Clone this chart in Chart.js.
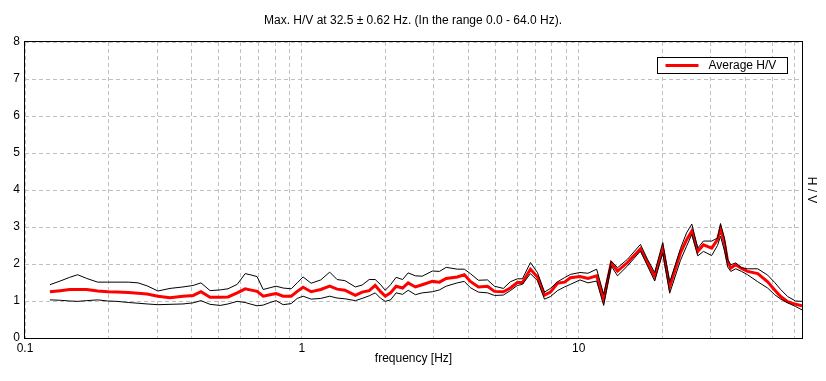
<!DOCTYPE html>
<html>
<head>
<meta charset="utf-8">
<script src="https://cdn.jsdelivr.net/npm/chart.js@4.4.1/dist/chart.umd.min.js"></script>
<style>
  body { margin: 0; background: #fff; }
  canvas { display: block; }
</style>
</head>
<body>
<canvas id="hv" width="826" height="381"></canvas>
<script>
const freq = [0.123, 0.134, 0.145, 0.155, 0.167, 0.183, 0.199, 0.215, 0.236, 0.256,
  0.276, 0.302, 0.334, 0.372, 0.405, 0.432, 0.466, 0.507, 0.541, 0.584,
  0.624, 0.650, 0.689, 0.725, 0.768, 0.807, 0.856, 0.915, 0.962, 1.01,
  1.08, 1.17, 1.26, 1.34, 1.43, 1.56, 1.65, 1.75, 1.84, 1.92,
  2.00, 2.09, 2.19, 2.31, 2.42, 2.57, 2.72, 2.96, 3.14, 3.32,
  3.64, 3.86, 4.06, 4.34, 4.68, 4.96, 5.34, 5.66, 6.00, 6.26,
  6.69, 7.09, 7.52, 7.90, 8.38, 8.88, 9.33, 10.1, 10.8, 11.6,
  12.3, 13.1, 13.8, 15.0, 16.7, 17.7, 18.8, 20.1, 21.3, 23.3,
  24.5, 25.6, 26.9, 28.2, 30.2, 31.7, 32.5, 33.6, 34.5, 35.4,
  36.9, 38.7, 40.7, 44.3, 48.1, 51.0, 53.6, 56.8, 60.7, 64.0];

const avgHV = [1.25, 1.28, 1.31, 1.31, 1.31, 1.27, 1.25, 1.24, 1.23, 1.21,
  1.19, 1.13, 1.09, 1.13, 1.15, 1.25, 1.10, 1.10, 1.11, 1.22,
  1.33, 1.30, 1.26, 1.13, 1.17, 1.20, 1.13, 1.13, 1.26, 1.37,
  1.25, 1.31, 1.40, 1.32, 1.29, 1.15, 1.24, 1.28, 1.42, 1.26,
  1.13, 1.22, 1.40, 1.35, 1.49, 1.38, 1.44, 1.53, 1.51, 1.61,
  1.65, 1.71, 1.53, 1.38, 1.40, 1.26, 1.25, 1.35, 1.50, 1.50,
  1.86, 1.65, 1.16, 1.24, 1.48, 1.51, 1.63, 1.66, 1.61, 1.68,
  1.05, 2.03, 1.81, 2.04, 2.41, 2.04, 1.66, 2.41, 1.39, 2.30,
  2.65, 2.89, 2.34, 2.52, 2.43, 2.66, 2.96, 2.55, 2.07, 1.89,
  1.98, 1.88, 1.80, 1.74, 1.52, 1.30, 1.12, 0.98, 0.91, 0.87];

const upperHV = [1.44, 1.54, 1.64, 1.71, 1.61, 1.51, 1.51, 1.51, 1.51, 1.49,
  1.41, 1.27, 1.34, 1.38, 1.42, 1.49, 1.28, 1.30, 1.33, 1.45,
  1.74, 1.71, 1.66, 1.31, 1.36, 1.40, 1.35, 1.33, 1.49, 1.65,
  1.48, 1.57, 1.78, 1.58, 1.55, 1.38, 1.43, 1.58, 1.58, 1.45,
  1.29, 1.44, 1.64, 1.58, 1.76, 1.68, 1.67, 1.81, 1.80, 1.91,
  1.86, 1.86, 1.74, 1.56, 1.57, 1.40, 1.34, 1.52, 1.60, 1.60,
  2.04, 1.77, 1.24, 1.34, 1.52, 1.63, 1.72, 1.77, 1.75, 1.86,
  1.18, 2.08, 1.90, 2.13, 2.53, 2.13, 1.77, 2.58, 1.51, 2.42,
  2.84, 3.08, 2.43, 2.62, 2.62, 2.70, 3.09, 2.70, 2.12, 1.98,
  2.03, 1.90, 1.87, 1.87, 1.70, 1.50, 1.31, 1.12, 1.00, 0.99];

const lowerHV = [1.03, 1.02, 1.00, 0.99, 1.01, 1.03, 1.00, 0.99, 0.96, 0.94,
  0.92, 0.90, 0.91, 0.92, 0.95, 1.01, 0.91, 0.88, 0.92, 0.99,
  0.96, 0.92, 0.87, 0.89, 0.96, 1.01, 0.90, 0.93, 1.07, 1.13,
  1.05, 1.07, 1.13, 1.08, 1.06, 1.01, 1.07, 1.14, 1.22, 1.08,
  0.99, 1.03, 1.22, 1.18, 1.29, 1.17, 1.22, 1.25, 1.30, 1.40,
  1.49, 1.53, 1.36, 1.24, 1.22, 1.15, 1.16, 1.28, 1.42, 1.45,
  1.74, 1.55, 1.05, 1.12, 1.28, 1.38, 1.45, 1.57, 1.49, 1.54,
  0.88, 1.95, 1.68, 1.95, 2.35, 1.95, 1.54, 2.30, 1.21, 2.10,
  2.48, 2.80, 2.22, 2.34, 2.23, 2.50, 2.75, 2.35, 1.92, 1.80,
  1.87, 1.80, 1.71, 1.52, 1.35, 1.17, 1.05, 0.95, 0.85, 0.76];

// grid lines on the log axis, only decades get a label
const xGrid = [0.1, 0.2, 0.3, 0.4, 0.5, 0.6, 0.7, 0.8, 0.9,
  1, 2, 3, 4, 5, 6, 7, 8, 9, 10, 20, 30, 40, 50, 60];
const xLabels = [0.1, 1, 10];

const FONT = '"Liberation Sans", Arial, sans-serif';
Chart.defaults.font.family = FONT;
Chart.defaults.font.size = 12;
Chart.defaults.color = '#000';

const pts = arr => freq.map((f, i) => ({ x: f, y: arr[i] }));

// frame around the plot + legend box inside the plot
const framePlugin = {
  id: 'frame',
  afterDraw(chart) {
    const { ctx, chartArea: a } = chart;
    ctx.save();
    ctx.strokeStyle = '#000';
    ctx.lineWidth = 1;
    const l = Math.round(a.left) - 0.5, t = Math.round(a.top) - 0.5;
    const r = Math.round(a.right) + 0.5, b = Math.round(a.bottom) + 0.5;
    ctx.strokeRect(l, t, r - l, b - t);

    // legend
    const bx = Math.round(a.right) - 145 + 0.5, by = Math.round(a.top) + 15 + 0.5;
    ctx.fillStyle = '#fff';
    ctx.fillRect(bx, by, 130, 16);
    ctx.strokeRect(bx, by, 130, 16);
    ctx.strokeStyle = '#ff0000';
    ctx.lineWidth = 3;
    ctx.beginPath();
    ctx.moveTo(bx + 8, by + 8);
    ctx.lineTo(bx + 41, by + 8);
    ctx.stroke();
    ctx.fillStyle = '#000';
    ctx.font = '12px ' + FONT;
    ctx.textBaseline = 'middle';
    ctx.fillText(chart.data.datasets[2].label, bx + 51, by + 8);
    ctx.restore();
  }
};

new Chart(document.getElementById('hv'), {
  type: 'line',
  data: {
    datasets: [
      { label: 'upper', data: pts(upperHV), borderColor: '#000', borderWidth: 1, pointRadius: 0, tension: 0 },
      { label: 'lower', data: pts(lowerHV), borderColor: '#000', borderWidth: 1, pointRadius: 0, tension: 0 },
      { label: 'Average H/V', data: pts(avgHV), borderColor: '#ff0000', borderWidth: 3, pointRadius: 0, tension: 0 }
    ]
  },
  options: {
    responsive: false,
    animation: false,
    layout: { padding: 0 },
    plugins: {
      legend: { display: false },
      tooltip: { enabled: false },
      title: {
        display: true,
        text: 'Max. H/V at 32.5 ± 0.62 Hz. (In the range 0.0 - 64.0 Hz).',
        font: { size: 12, weight: 'normal' },
        color: '#000',
        padding: { top: 13, bottom: 14.6 }
      }
    },
    scales: {
      x: {
        type: 'logarithmic',
        min: 0.1,
        max: 64,
        afterBuildTicks: s => { s.ticks = xGrid.map(v => ({ value: v })); },
        afterFit: s => { s.height = 43; },
        ticks: {
          autoSkip: false,
          maxRotation: 0,
          padding: 3,
          callback: v => xLabels.includes(v) ? String(v) : ''
        },
        grid: { color: '#c0c0c0', drawTicks: false },
        border: { display: false, dash: [4, 3] },
        title: { display: true, text: 'frequency [Hz]', padding: { top: 0, bottom: 14.8 } }
      },
      y: {
        min: 0,
        max: 8,
        afterFit: s => { s.width = 25; },
        ticks: { stepSize: 1, padding: 5 },
        grid: { color: '#c0c0c0', drawTicks: false },
        border: { display: false, dash: [4, 3] }
      },
      y2: {
        position: 'right',
        min: 0,
        max: 8,
        afterFit: s => { s.width = 24; },
        ticks: { display: false },
        grid: { display: false, drawTicks: false },
        border: { display: false },
        title: { display: true, text: 'H / V', padding: { top: 7.8, bottom: 0 } }
      }
    }
  },
  plugins: [framePlugin]
});
</script>
</body>
</html>
